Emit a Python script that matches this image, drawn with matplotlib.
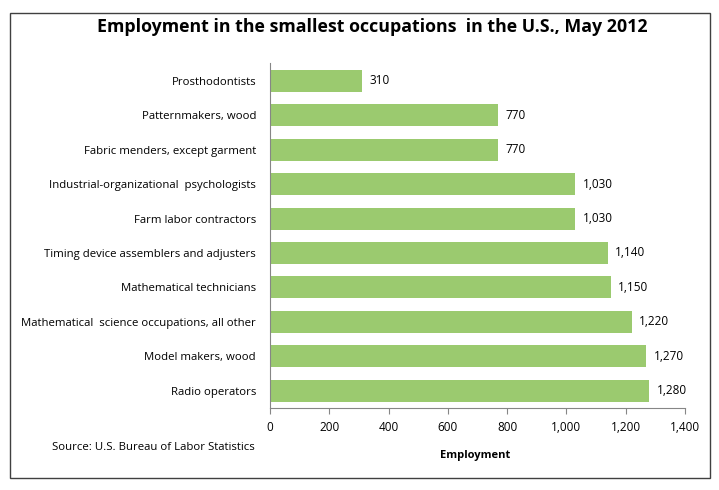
import matplotlib.pyplot as plt
from matplotlib.patches import Rectangle
from matplotlib.ticker import FuncFormatter

occupations = ['Prosthodontists', 'Patternmakers, wood', 'Fabric menders, except garment',
               'Industrial-organizational  psychologists', 'Farm labor contractors',
               'Timing device assemblers and adjusters', 'Mathematical technicians',
               'Mathematical  science occupations, all other', 'Model makers, wood',
               'Radio operators']
employment = [310, 770, 770, 1030, 1030, 1140, 1150, 1220, 1270, 1280]
xticks = [0, 200, 400, 600, 800, 1000, 1200, 1400]

plt.rcParams['font.family'] = ['Open Sans', 'DejaVu Sans']

fig = plt.figure(figsize=(7.19, 4.9), dpi=100)
ax = fig.add_axes([270/719, 1-408/490, 415/719, 344.5/490])

pos = list(range(len(occupations)))
ax.barh(pos, employment, height=0.64, color='#9bca6f')
for p, v in zip(pos, employment):
    ax.text(v + 25, p, f'{v:,}', va='center', ha='left', fontsize=8.5)

ax.set_ylim(len(occupations) - 0.5, -0.5)
ax.set_xlim(0, 1400)
ax.set_xticks(xticks)
ax.xaxis.set_major_formatter(FuncFormatter(lambda x, _: f'{int(x):,}'))
ax.set_yticks(pos)
ax.set_yticklabels(occupations, fontsize=8.2)
ax.tick_params(axis='y', length=0, pad=10)
ax.tick_params(axis='x', direction='out', length=4, color='#868686', labelsize=8.5, pad=5)
for s in ['top', 'right']:
    ax.spines[s].set_visible(False)
for s in ['left', 'bottom']:
    ax.spines[s].set_color('#868686')

fig.text(475/719, 1-455/490, 'Employment', ha='center', va='center', fontsize=8, fontweight='bold')
fig.text(52/719, 1-447/490, 'Source: U.S. Bureau of Labor Statistics', ha='left', va='center', fontsize=8.2)
fig.text(372/719, 1-27/490, 'Employment in the smallest occupations  in the U.S., May 2012',
         ha='center', va='center', fontsize=12.8, fontweight='bold')

fig.patches.append(Rectangle((10/719, 1-478/490), 700/719, 465/490, transform=fig.transFigure,
                             fill=False, edgecolor='#404040', linewidth=1))

fig.savefig('out.png', dpi=100)
